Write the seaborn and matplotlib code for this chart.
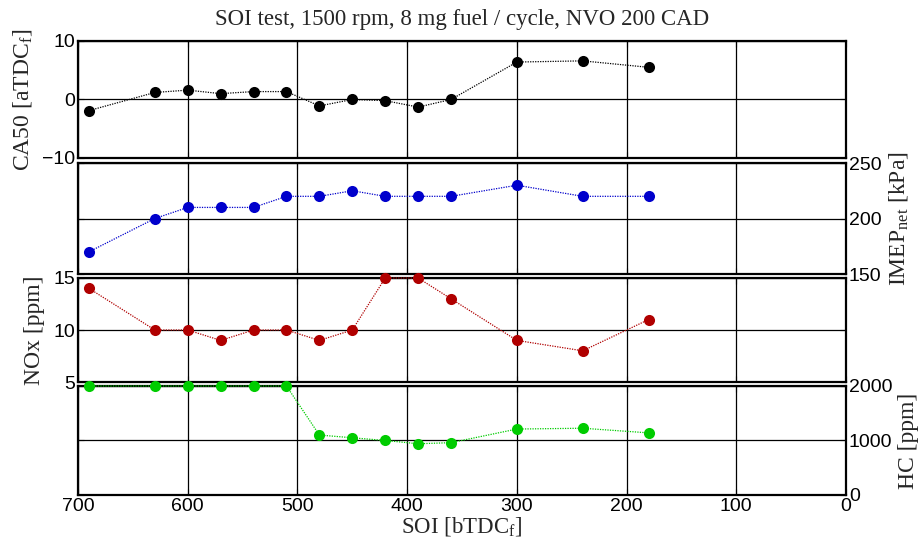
import matplotlib
matplotlib.use("Agg")
import matplotlib.pyplot as plt
import seaborn as sns
import pandas as pd

soi = [690, 630, 600, 570, 540, 510, 480, 450, 420, 390, 360, 300, 240, 180]
ca50 = [-1.9, 1.2, 1.6, 1.0, 1.35, 1.35, -1.1, 0.0, -0.2, -1.3, 0.0, 6.4, 6.6, 5.5]
imep = [170, 200, 210, 210, 210, 220, 220, 225, 220, 220, 220, 230, 220, 220]
nox = [14, 10, 10, 9, 10, 10, 9, 10, 15, 15, 13, 9, 8, 11]
hc = [2000, 2000, 2000, 2000, 2000, 2000, 1100, 1050, 1000, 940, 960, 1210, 1225, 1140]

title = "SOI test, 1500 rpm, 8 mg fuel / cycle, NVO 200 CAD"
xlabel = r"SOI [bTDC$_\mathrm{f}$]"
ylabels = [r"CA50 [aTDC$_\mathrm{f}$]", r"IMEP$_\mathrm{net}$ [kPa]", "NOx [ppm]", "HC [ppm]"]
ylims = [(-10, 10), (150, 250), (5, 15), (0, 2000)]
yticks = [[-10, 0, 10], [150, 200, 250], [5, 10, 15], [0, 1000, 2000]]
sides = ["left", "right", "left", "right"]
colors = ["#000000", "#0000CC", "#B00000", "#00CC00"]
series = [ca50, imep, nox, hc]
xticks = [700, 600, 500, 400, 300, 200, 100, 0]

sns.set_style("white")
plt.rcParams["font.family"] = ["Liberation Sans", "DejaVu Sans"]
plt.rcParams["mathtext.fontset"] = "custom"
plt.rcParams["mathtext.rm"] = "Liberation Serif"
plt.rcParams["mathtext.it"] = "Liberation Serif:italic"

fig = plt.figure(figsize=(9.22, 5.53), dpi=100)
left, width = 0.0846, 0.833
boxes = [(0.7143, 0.2116), (0.5045, 0.2007), (0.3092, 0.1881), (0.1049, 0.1971)]

serif_y = {"family": "Liberation Serif", "size": 17}
serif_x = {"family": "Liberation Serif", "size": 16.5}
axes = []
for i, (b, h) in enumerate(boxes):
    ax = fig.add_axes([left, b, width, h])
    axes.append(ax)
    df = pd.DataFrame({"x": soi, "y": series[i]})
    sns.lineplot(data=df, x="x", y="y", ax=ax, color=colors[i], dashes=False,
                 linewidth=0.9, marker="o", markersize=8, markeredgewidth=0,
                 clip_on=False, zorder=3)
    for ln in ax.lines:
        ln.set_linestyle((0, (1, 1)))
    ax.set_xlim(700, 0)
    ax.set_ylim(*ylims[i])
    ax.set_xticks(xticks)
    ax.set_yticks(yticks[i])
    ax.grid(True, color="black", linewidth=0.9)
    for s in ax.spines.values():
        s.set_linewidth(1.6)
        s.set_color("black")
    ax.tick_params(direction="in", top=True, bottom=True, left=True, right=True,
                   length=4, labelsize=14, colors="black", pad=2)
    if sides[i] == "right":
        ax.tick_params(labelleft=False, labelright=True)
        ax.yaxis.set_label_position("right")
        ax.set_ylabel(ylabels[i], fontdict=serif_y, labelpad=4)
    else:
        ax.tick_params(labelleft=True, labelright=False)
        ax.set_ylabel(ylabels[i], fontdict=serif_y, labelpad=6)
    if i < 3:
        ax.tick_params(labelbottom=False)
        ax.set_xlabel("")
    else:
        ax.set_xlabel(xlabel, fontdict=serif_x, labelpad=0)

axes[0].set_title(title, fontdict={"family": "Liberation Serif", "size": 16.5}, pad=11.5)

fig.savefig("out.png", dpi=100)
